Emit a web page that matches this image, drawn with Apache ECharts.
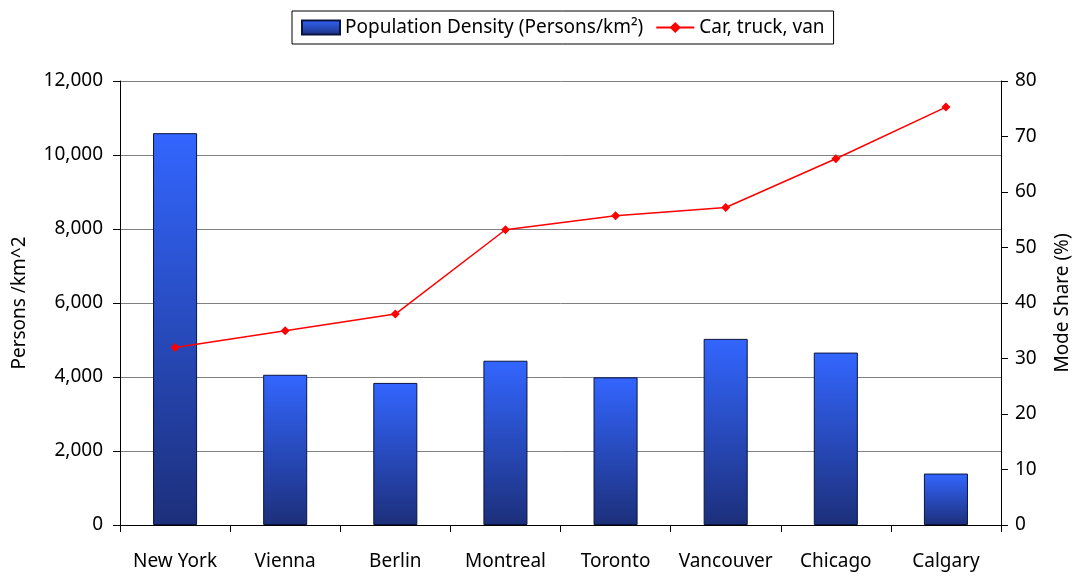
<!DOCTYPE html>
<html>
<head>
<meta charset="utf-8">
<script src="https://cdn.jsdelivr.net/npm/echarts@6/dist/echarts.min.js"></script>
<style>
  html, body { margin: 0; padding: 0; background: #fff; }
  #main { width: 1076px; height: 577px; }
</style>
</head>
<body>
<div id="main"></div>
<script>
var cities = ['New York', 'Vienna', 'Berlin', 'Montreal', 'Toronto', 'Vancouver', 'Chicago', 'Calgary'];
var density = [10590, 4060, 3840, 4440, 3990, 5030, 4660, 1390];
var carShare = [32.0, 35.0, 38.0, 53.2, 55.7, 57.2, 66.0, 75.3];

var font = 'Noto Sans';
var fs = 19;

var myChart = echarts.init(document.getElementById('main'));
var option = {
  animation: false,
  textStyle: { fontFamily: font, color: '#000' },
  legend: {
    left: 292,
    top: 11,
    padding: [7, 9, 7, 9],
    itemGap: 12,
    itemWidth: 38,
    itemHeight: 14,
    borderColor: '#000',
    borderWidth: 1,
    textStyle: { fontFamily: font, fontSize: fs, color: '#000' },
    data: [
      { name: 'Population Density (Persons/km²)', icon: 'rect' },
      { name: 'Car, truck, van' }
    ]
  },
  grid: { left: 120, right: 75, top: 81, bottom: 52, containLabel: false, outerBoundsMode: 'none' },
  xAxis: {
    type: 'category',
    data: cities,
    axisLine: { lineStyle: { color: '#000', width: 1 } },
    axisTick: { show: true, alignWithLabel: false, length: 7, lineStyle: { color: '#000' } },
    axisLabel: { interval: 0, margin: 27, fontSize: fs, color: '#000', fontFamily: font, hideOverlap: false },
    splitLine: { show: false }
  },
  yAxis: [{
    type: 'value',
    min: 0,
    max: 12000,
    interval: 2000,
    name: 'Persons /km^2',
    nameLocation: 'middle',
    nameGap: 91,
    nameTextStyle: { fontSize: fs, color: '#000', fontFamily: font },
    axisLine: { show: true, lineStyle: { color: '#000' } },
    axisTick: { show: true, length: 7, lineStyle: { color: '#000' } },
    axisLabel: {
      margin: 17, fontSize: fs, color: '#000', fontFamily: font,
      formatter: function (v) { return v.toLocaleString('en-US'); }
    },
    splitLine: { show: true, lineStyle: { color: '#808080', width: 1 } }
  }, {
    type: 'value',
    min: 0,
    max: 80,
    interval: 10,
    name: 'Mode Share (%)',
    nameLocation: 'middle',
    nameGap: 52,
    nameRotate: 90,
    nameTextStyle: { fontSize: fs, color: '#000', fontFamily: font },
    axisLine: { show: true, lineStyle: { color: '#000' } },
    axisTick: { show: true, length: 7, lineStyle: { color: '#000' } },
    axisLabel: { margin: 14, fontSize: fs, color: '#000', fontFamily: font },
    splitLine: { show: false }
  }],
  series: [{
    name: 'Population Density (Persons/km²)',
    type: 'bar',
    yAxisIndex: 0,
    barWidth: '40%',
    data: density,
    itemStyle: {
      color: new echarts.graphic.LinearGradient(0, 0, 0, 1, [
        { offset: 0, color: '#3366ff' },
        { offset: 1, color: '#1c2f7a' }
      ]),
      borderColor: '#0a1440',
      borderWidth: 1
    }
  }, {
    name: 'Car, truck, van',
    type: 'line',
    yAxisIndex: 1,
    data: carShare,
    symbol: 'diamond',
    symbolSize: 9,
    lineStyle: { color: '#ff0000', width: 1.5 },
    itemStyle: { color: '#ff0000' }
  }]
};
myChart.setOption(option);
</script>
</body>
</html>
